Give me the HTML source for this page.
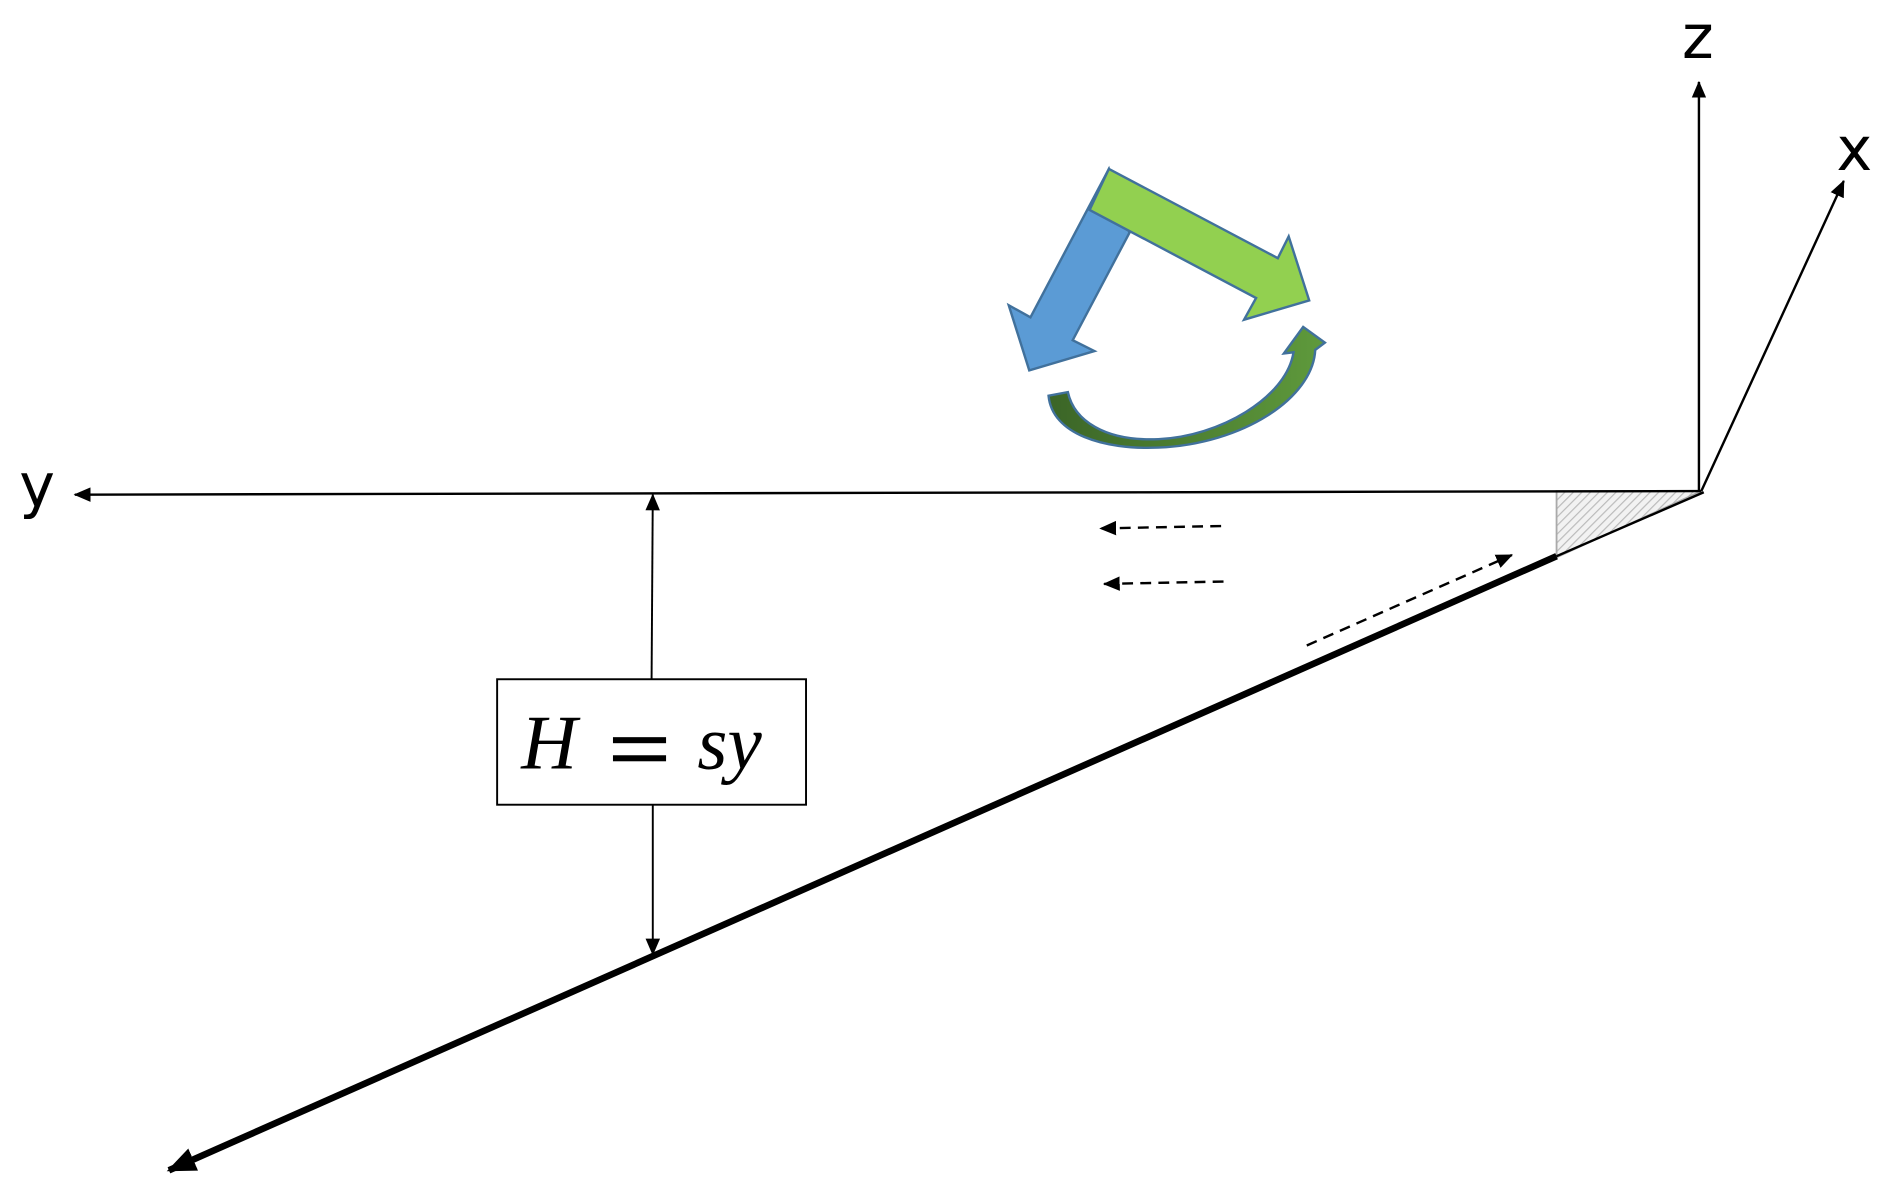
<!DOCTYPE html>
<html><head><meta charset="utf-8"><style>
html,body{margin:0;padding:0;background:#fff;}
svg{display:block;}
</style></head><body>
<svg width="1892" height="1192" viewBox="0 0 1568 988" preserveAspectRatio="none" xmlns="http://www.w3.org/2000/svg">
<defs>
<marker id="ah" markerWidth="14" markerHeight="12" refX="13" refY="6" orient="auto" markerUnits="userSpaceOnUse" viewBox="0 0 14 12">
<path d="M0,0 L14,6 L0,12 Z" fill="#000"/></marker>
<marker id="ahb" markerWidth="24" markerHeight="20" refX="22" refY="10" orient="auto" markerUnits="userSpaceOnUse" viewBox="0 0 24 20">
<path d="M0,0 L24,10 L0,20 Z" fill="#000"/></marker>
<pattern id="hatch" width="5" height="5" patternUnits="userSpaceOnUse" patternTransform="rotate(45)">
<rect width="5" height="5" fill="#f2f2f2"/><line x1="0" y1="0" x2="0" y2="5" stroke="#bbb" stroke-width="2"/></pattern>
<linearGradient id="cg" x1="0" y1="0" x2="1" y2="0">
<stop offset="0" stop-color="#3b6527"/><stop offset="1" stop-color="#5f9a3c"/></linearGradient>
</defs>

<polygon points="1290,407 1410,407 1290,462" fill="url(#hatch)" stroke="#aaa" stroke-width="1.5"/>

<line x1="1410" y1="407" x2="62" y2="410" stroke="#000" stroke-width="2" marker-end="url(#ah)"/>
<line x1="1408" y1="407" x2="1408" y2="68" stroke="#000" stroke-width="2" marker-end="url(#ah)"/>
<line x1="1410" y1="407" x2="1528" y2="150" stroke="#000" stroke-width="2" marker-end="url(#ah)"/>
<line x1="1412" y1="408" x2="1290" y2="461" stroke="#000" stroke-width="2"/>
<line x1="1290" y1="461" x2="140" y2="970" stroke="#000" stroke-width="5.5" marker-end="url(#ahb)"/>

<text x="16" y="420" font-family="DejaVu Sans, sans-serif" font-size="50">y</text>
<text x="1394" y="48" font-family="DejaVu Sans, sans-serif" font-size="50">z</text>
<text x="1522" y="141" font-family="DejaVu Sans, sans-serif" font-size="50">x</text>

<line x1="540" y1="563" x2="541" y2="410" stroke="#000" stroke-width="1.6" marker-end="url(#ah)"/>
<line x1="541" y1="667" x2="541" y2="791" stroke="#000" stroke-width="1.6" marker-end="url(#ah)"/>
<rect x="412" y="563" width="256" height="104" fill="#fff" stroke="#000" stroke-width="1.6"/>
<text x="432" y="637" font-family="Liberation Serif, serif" font-size="64" font-style="italic">H</text>
<rect x="508" y="611" width="44" height="5" fill="#000"/>
<rect x="508" y="626" width="44" height="5" fill="#000"/>
<text x="578" y="637" font-family="Liberation Serif, serif" font-size="64" font-style="italic">sy</text>

<line x1="1012" y1="436" x2="912" y2="438" stroke="#000" stroke-width="2" stroke-dasharray="9,6" marker-end="url(#ah)"/>
<line x1="1014" y1="482" x2="915" y2="484" stroke="#000" stroke-width="2" stroke-dasharray="9,6" marker-end="url(#ah)"/>
<line x1="1083" y1="535" x2="1253" y2="460" stroke="#000" stroke-width="2" stroke-dasharray="9,6" marker-end="url(#ah)"/>

<polygon points="919,140 854,263 836,253 853,307 907,291 889,282 936,193" fill="#5b9bd5" stroke="#41719c" stroke-width="2"/>
<polygon points="919,140 1059,214 1068,196 1085,249 1031,265 1041,247 903,174" fill="#92d050" stroke="#41719c" stroke-width="2"/>
<path d="M869,328 C872,360 915,373 960,371 C1030,368 1088,330 1090,290 L1098,284 L1080,271 L1064,293 L1072,292 C1066,330 1010,362 960,364 C915,366 890,348 885,325 Z" fill="url(#cg)" stroke="#41719c" stroke-width="2"/>
</svg>
</body></html>
